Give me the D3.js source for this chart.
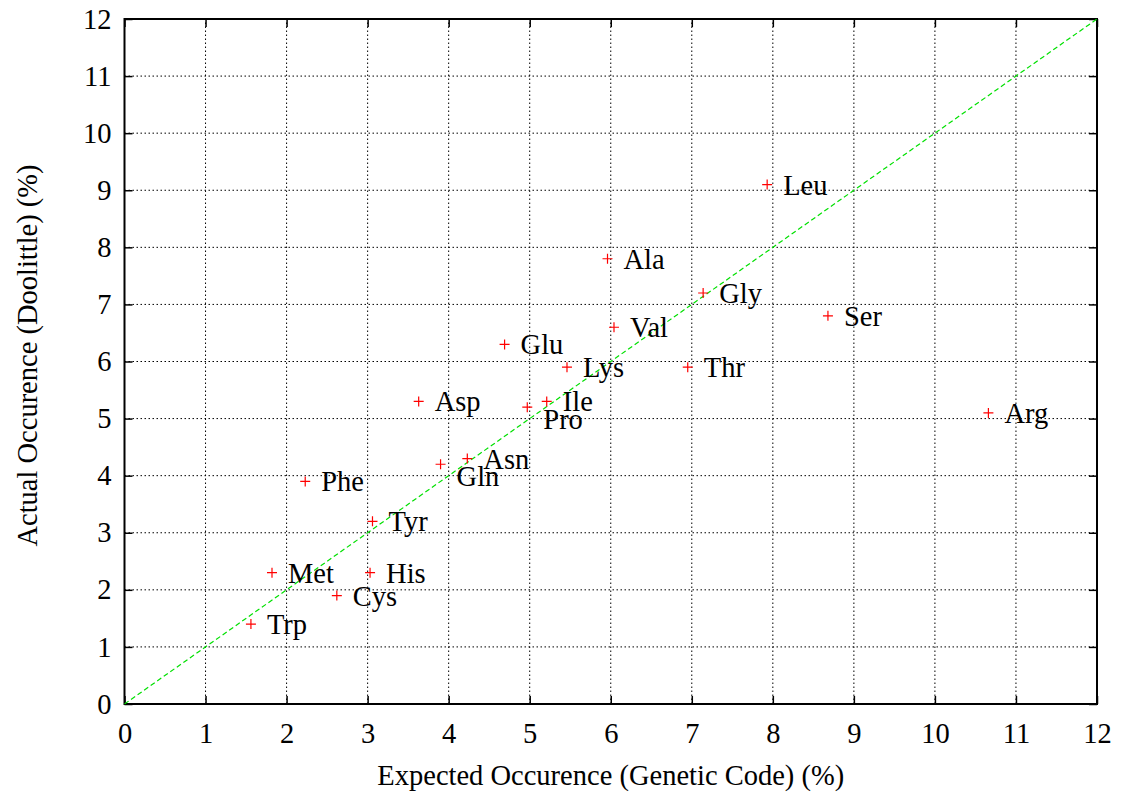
<!DOCTYPE html>
<html>
<head>
<meta charset="utf-8">
<script src="https://cdn.jsdelivr.net/npm/d3@7"></script>
<style>
  body { margin: 0; background: #fff; }
  text { font-family: "Liberation Serif", "Times New Roman", serif; fill: #000; }
</style>
</head>
<body>
<svg id="chart" width="1122" height="793"></svg>
<script>
// amino acid occurrence: expected (genetic code) vs actual (Doolittle)
const aminoAcids = ["Leu", "Ala", "Gly", "Ser", "Val", "Glu", "Lys", "Thr", "Asp", "Ile", "Pro", "Arg",
                    "Asn", "Gln", "Phe", "Tyr", "Met", "His", "Cys", "Trp"];
const expected   = [7.93, 5.96, 7.14, 8.68, 6.04, 4.69, 5.46, 6.95, 3.63, 5.21, 4.97, 10.66,
                    4.23, 3.90, 2.23, 3.06, 1.82, 3.03, 2.62, 1.56];
const actual     = [9.1, 7.8, 7.2, 6.8, 6.6, 6.3, 5.9, 5.9, 5.3, 5.3, 5.2, 5.1,
                    4.3, 4.2, 3.9, 3.2, 2.3, 2.3, 1.9, 1.4];
const tickValues = [0, 1, 2, 3, 4, 5, 6, 7, 8, 9, 10, 11, 12];
// labels that sit a little below their point in the original plot
const lowLabels = ["Pro", "Gln"];

const svg = d3.select("#chart");
const margin = {left: 124.5, right: 25, top: 19, bottom: 89};
const W = 1122, H = 793;

const x = d3.scaleLinear().domain([0, 12]).range([margin.left, W - margin.right]);
const y = d3.scaleLinear().domain([0, 12]).range([H - margin.bottom, margin.top]);

const fontSize = 28.5;
const tickLen = 8;

// grid
const grid = svg.append("g").attr("class", "grid");
grid.selectAll("line.gx").data(tickValues.slice(1, -1)).enter().append("line")
    .attr("x1", d => x(d)).attr("x2", d => x(d))
    .attr("y1", y(0)).attr("y2", y(12))
    .attr("stroke", "#000").attr("stroke-width", 1).attr("stroke-dasharray", "1.5,2.5");
grid.selectAll("line.gy").data(tickValues.slice(1, -1)).enter().append("line")
    .attr("y1", d => y(d)).attr("y2", d => y(d))
    .attr("x1", x(0)).attr("x2", x(12))
    .attr("stroke", "#000").attr("stroke-width", 1).attr("stroke-dasharray", "1.5,2.5");

// axes: ticks point inward, mirrored on all four sides
const axisB = d3.axisBottom(x).tickValues(tickValues).tickSize(-tickLen).tickPadding(19);
const axisT = d3.axisTop(x).tickValues(tickValues).tickSize(-tickLen).tickFormat("");
const axisL = d3.axisLeft(y).tickValues(tickValues).tickSize(-tickLen).tickPadding(13);
const axisR = d3.axisRight(y).tickValues(tickValues).tickSize(-tickLen).tickFormat("");

function styleAxis(g) {
  g.attr("font-family", null);
  g.select(".domain").remove();
  g.selectAll(".tick line").attr("stroke", "#000").attr("stroke-width", 1.5);
  g.selectAll(".tick text").attr("font-size", fontSize);
}
svg.append("g").attr("transform", `translate(0,${y(0)})`).call(axisB).call(styleAxis);
svg.append("g").attr("transform", `translate(0,${y(12)})`).call(axisT).call(styleAxis);
svg.append("g").attr("transform", `translate(${x(0)},0)`).call(axisL).call(styleAxis);
svg.append("g").attr("transform", `translate(${x(12)},0)`).call(axisR).call(styleAxis);

// frame
svg.append("rect")
    .attr("x", x(0)).attr("y", y(12))
    .attr("width", x(12) - x(0)).attr("height", y(0) - y(12))
    .attr("fill", "none").attr("stroke", "#000").attr("stroke-width", 2);

// y = x reference line
svg.append("line")
    .attr("x1", x(0)).attr("y1", y(0)).attr("x2", x(12)).attr("y2", y(12))
    .attr("stroke", "#00e000").attr("stroke-width", 1.2).attr("stroke-dasharray", "5,3");

// points
const pts = svg.append("g").selectAll("g").data(aminoAcids).enter().append("g")
    .attr("transform", (d, i) => `translate(${x(expected[i])},${y(actual[i])})`);
pts.append("path")
    .attr("d", "M-5,0H5M0,-5V5")
    .attr("stroke", "#ff0000").attr("stroke-width", 1.2);
pts.append("text")
    .attr("x", 16)
    .attr("y", d => lowLabels.includes(d) ? 12 : 0)
    .attr("dy", "0.35em")
    .attr("font-size", fontSize)
    .text(d => d);

// axis titles
svg.append("text")
    .attr("x", (x(0) + x(12)) / 2).attr("y", 785)
    .attr("text-anchor", "middle").attr("font-size", fontSize)
    .text("Expected Occurence (Genetic Code) (%)");
svg.append("text")
    .attr("transform", `translate(37,${(y(0) + y(12)) / 2 - 6}) rotate(-90)`)
    .attr("text-anchor", "middle").attr("font-size", fontSize)
    .text("Actual Occurence (Doolittle) (%)");
</script>
</body>
</html>
